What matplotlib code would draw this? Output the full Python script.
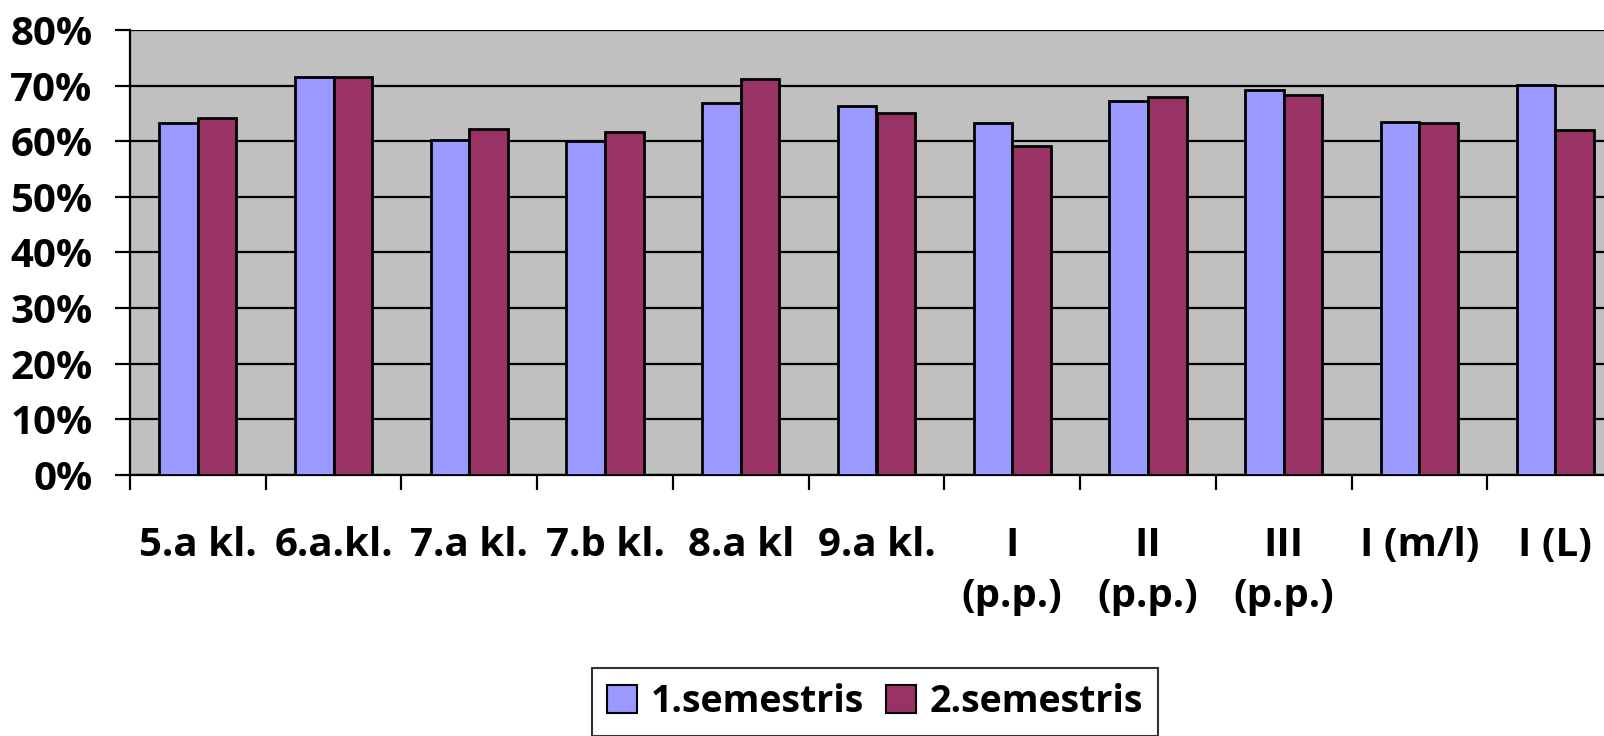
import numpy as np
import matplotlib.pyplot as plt
from matplotlib.ticker import PercentFormatter, FixedLocator, NullFormatter

# klases un vidējie rezultāti
categories = ['5.a kl.', '6.a.kl.', '7.a kl.', '7.b kl.', '8.a kl', '9.a kl.',
              'I\n(p.p.)', 'II\n(p.p.)', 'III\n(p.p.)', 'I (m/l)', 'I (L)']
sem1 = [0.633, 0.716, 0.602, 0.600, 0.668, 0.664, 0.633, 0.673, 0.692, 0.635, 0.701]
sem2 = [0.642, 0.716, 0.622, 0.617, 0.712, 0.651, 0.592, 0.680, 0.683, 0.633, 0.620]

plt.rcParams['font.family'] = ['Open Sans', 'DejaVu Sans']
plt.rcParams['font.weight'] = 'bold'

fig = plt.figure(figsize=(16.04, 7.36), dpi=100)
# plot area runs past the right edge like in the original
ax = fig.add_axes([130/1604, 261/736, 1493/1604, 445/736])
ax.set_facecolor('#C0C0C0')

x = np.arange(len(categories))
w = 0.284
ax.bar(x - w/2, sem1, w, color='#9999FF', edgecolor='black', linewidth=2,
       label='1.semestris', zorder=3)
ax.bar(x + w/2, sem2, w, color='#993366', edgecolor='black', linewidth=2,
       label='2.semestris', zorder=3)

ax.set_xlim(-0.5, len(categories) - 0.5)
ax.set_ylim(0, 0.8)
ax.set_yticks(np.arange(0, 0.81, 0.1))
ax.yaxis.set_major_formatter(PercentFormatter(1.0, decimals=0))
ax.yaxis.grid(True, color='black', linewidth=1.6, zorder=1)

# ticks on category boundaries, labels in the middle
ax.xaxis.set_major_locator(FixedLocator(np.arange(-0.5, len(categories), 1)))
ax.xaxis.set_major_formatter(NullFormatter())
ax.xaxis.set_minor_locator(FixedLocator(x))
ax.set_xticklabels(categories, minor=True, fontsize=29, fontweight='bold',
                   linespacing=1.4, va='top')
ax.tick_params(axis='x', which='minor', length=0, pad=37)
ax.tick_params(axis='x', which='major', length=11, width=1.6, direction='out')
ax.tick_params(axis='y', length=11, width=1.6, direction='out', pad=16,
               labelsize=29)
for lab in ax.get_yticklabels():
    lab.set_fontweight('bold')

for s in ['top', 'right']:
    ax.spines[s].set_visible(False)
ax.spines['left'].set_linewidth(1.6)
ax.spines['bottom'].set_linewidth(1.6)

leg = fig.legend(loc='upper center', bbox_to_anchor=(875/1604, 1 - 668/736),
                 ncol=2, frameon=True, fancybox=False,
                 edgecolor='black', handlelength=0.8, handleheight=0.78,
                 handletextpad=0.35, columnspacing=0.6, borderpad=0.4,
                 borderaxespad=0, prop={'weight': 'bold', 'size': 27})
leg.get_frame().set_linewidth(1.5)
for h in leg.legend_handles:
    h.set_linewidth(1.5)

fig.savefig('out.png', dpi=100, facecolor='white')
